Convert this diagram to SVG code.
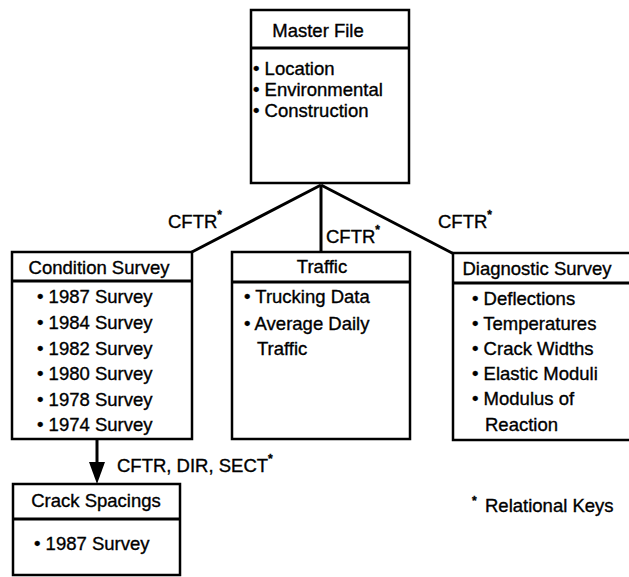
<svg xmlns="http://www.w3.org/2000/svg" width="629" height="577" viewBox="0 0 629 577">
<style>
.box{fill:#fff;stroke:#000;stroke-width:2.5}
.div{stroke:#000;stroke-width:3}
.t{font-family:"Liberation Sans",Arial,sans-serif;font-size:18.5px;fill:#000;stroke:#000;stroke-width:0.35}
.h{text-anchor:middle}
.s{font-size:12px;font-weight:bold}
.c{stroke:#000;stroke-width:3;fill:none}
</style>
<rect width="629" height="577" fill="#fff"/>
<g id="connectors">
<line class="c" x1="321" y1="185" x2="190" y2="253"/>
<line class="c" x1="321" y1="185" x2="321" y2="253"/>
<line class="c" x1="321" y1="185" x2="454" y2="254"/>
<line class="c" x1="97" y1="440" x2="97" y2="465"/>
<polygon points="89,462 105,462 97,484" fill="#000"/>
<text class="t" x="168" y="228">CFTR<tspan class="s" dy="-9">*</tspan></text>
<text class="t" x="326" y="243">CFTR<tspan class="s" dy="-9">*</tspan></text>
<text class="t" x="438" y="228">CFTR<tspan class="s" dy="-9">*</tspan></text>
<text class="t" x="117" y="472">CFTR, DIR, SECT<tspan class="s" dy="-9">*</tspan></text>
</g>
<g id="master">
<rect class="box" x="251" y="10" width="158" height="173"/>
<line class="div" x1="251" y1="48" x2="409" y2="48"/>
<text class="t h" x="318" y="37">Master File</text>
<text class="t" x="253" y="75">• Location</text>
<text class="t" x="253" y="96">• Environmental</text>
<text class="t" x="253" y="117">• Construction</text>
</g>
<g id="condition">
<rect class="box" x="12" y="252" width="180" height="187"/>
<line class="div" x1="12" y1="281" x2="192" y2="281"/>
<text class="t h" x="99" y="274">Condition Survey</text>
<text class="t" x="37" y="303">• 1987 Survey</text>
<text class="t" x="37" y="329">• 1984 Survey</text>
<text class="t" x="37" y="355">• 1982 Survey</text>
<text class="t" x="37" y="380">• 1980 Survey</text>
<text class="t" x="37" y="406">• 1978 Survey</text>
<text class="t" x="37" y="431">• 1974 Survey</text>
</g>
<g id="traffic">
<rect class="box" x="232" y="252" width="178" height="187"/>
<line class="div" x1="232" y1="282" x2="410" y2="282"/>
<text class="t h" x="322" y="273">Traffic</text>
<text class="t" x="244" y="303">• Trucking Data</text>
<text class="t" x="244" y="330">• Average Daily</text>
<text class="t" x="257" y="355">Traffic</text>
</g>
<g id="diagnostic">
<rect class="box" x="453" y="253" width="180" height="187"/>
<line class="div" x1="453" y1="283" x2="633" y2="283"/>
<text class="t h" x="537" y="275">Diagnostic Survey</text>
<text class="t" x="472" y="305">• Deflections</text>
<text class="t" x="472" y="330">• Temperatures</text>
<text class="t" x="472" y="355">• Crack Widths</text>
<text class="t" x="472" y="380">• Elastic Moduli</text>
<text class="t" x="472" y="405">• Modulus of</text>
<text class="t" x="485" y="431">Reaction</text>
</g>
<g id="crack">
<rect class="box" x="13" y="484" width="167" height="91"/>
<line class="div" x1="13" y1="519" x2="180" y2="519"/>
<text class="t h" x="96" y="507">Crack Spacings</text>
<text class="t" x="34" y="550">• 1987 Survey</text>
</g>
<g id="legend">
<text class="t" x="472" y="512"><tspan class="s" dy="-7">*</tspan><tspan x="485" dy="7">Relational Keys</tspan></text>
</g>
</svg>
